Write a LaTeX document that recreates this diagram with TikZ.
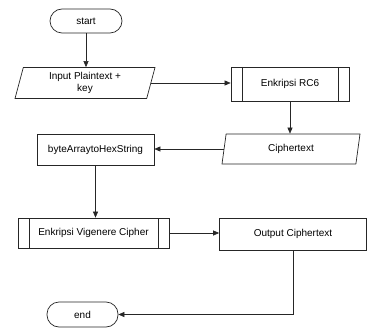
\documentclass[tikz,border=0pt]{standalone}
\usepackage{fontspec}
\setmainfont{Liberation Sans}
\usetikzlibrary{shapes.geometric,arrows.meta}
\begin{document}
\begin{tikzpicture}[x=1pt,y=-1pt,
  every node/.style={font=\fontsize{10}{11.5}\selectfont, line width=0.7pt, draw=black!85, inner sep=1pt, align=center},
  term/.style={rectangle, rounded corners=12pt},
  procbox/.style={rectangle},
  predef/.style={rectangle, path picture={
      \draw[line width=0.7pt,black!85] ([xshift=11pt]path picture bounding box.north west) -- ([xshift=11pt]path picture bounding box.south west);
      \draw[line width=0.7pt,black!85] ([xshift=-11pt]path picture bounding box.north east) -- ([xshift=-11pt]path picture bounding box.south east);}},
  iobox/.style={trapezium, trapezium left angle=70, trapezium right angle=110, trapezium stretches body},
  conn/.style={draw=black!85, line width=0.6pt, -{Triangle[length=6pt,width=5pt]}}
]
\useasboundingbox (0,0) rectangle (379,331);
\node[term, minimum width=72pt, minimum height=24pt] (start) at (86,21) {start};
\node[iobox, minimum width=140pt, minimum height=31pt] (input) at (85,83) {Input Plaintext +\\key};
\node[predef, minimum width=118pt, minimum height=34pt] (rc6) at (290,84) {Enkripsi RC6};
\node[iobox, minimum width=138pt, minimum height=30pt] (cipher) at (291,149) {Ciphertext};
\node[procbox, minimum width=117pt, minimum height=31pt] (bytes) at (95.5,149.5) {byteArraytoHexString};
\node[predef, minimum width=151pt, minimum height=30pt] (vig) at (93.5,233) {Enkripsi Vigenere Cipher};
\node[procbox, minimum width=147pt, minimum height=32pt] (out) at (293,234) {Output Ciphertext};
\node[term, minimum width=71pt, minimum height=25pt] (end) at (82.5,314.5) {end};

\draw[conn] (start.south) -- (start.south |- input.north);
\draw[conn] (input.east) -- (rc6.west |- input.east);
\draw[conn] (rc6.south) -- (rc6.south |- cipher.north);
\draw[conn] (cipher.west) -- (bytes.east |- cipher.west);
\draw[conn] (bytes.south) -- (bytes.south |- vig.north);
\draw[conn] (vig.east) -- (out.west |- vig.east);
\draw[conn] (out.south) |- (end.east);
\end{tikzpicture}
\end{document}
